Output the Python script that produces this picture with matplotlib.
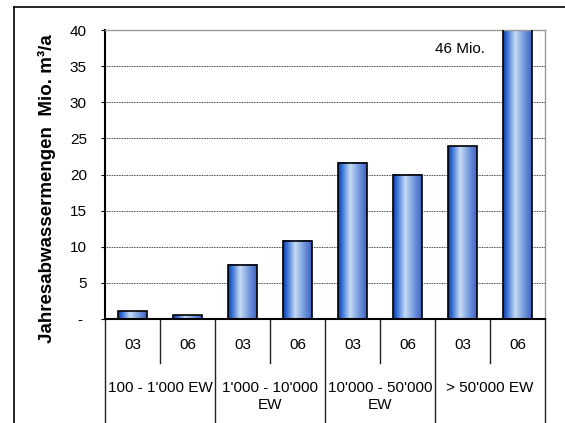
import numpy as np
import matplotlib
matplotlib.use('Agg')
import matplotlib.pyplot as plt
from matplotlib.colors import LinearSegmentedColormap
from matplotlib.patches import Rectangle

plt.rcParams['font.family'] = ['Liberation Sans', 'DejaVu Sans']

# data
groups = ["100 - 1'000 EW", "1'000 - 10'000\nEW", "10'000 - 50'000\nEW", "> 50'000 EW"]
years = ['03', '06']
values = [1.1, 0.5, 7.5, 10.8, 21.6, 20.0, 23.9, 46.0]
yticks = [0, 5, 10, 15, 20, 25, 30, 35, 40]
ytick_labels = ['- ', '5', '10', '15', '20', '25', '30', '35', '40']

W, H = 565, 423
fig = plt.figure(figsize=(W / 100, H / 100), dpi=100)
ax = fig.add_axes([105 / W, 1 - 319 / H, 440 / W, 289 / H])

# bar gradient (dark edges, light stripe left of centre)
cmap = LinearSegmentedColormap.from_list('bar', [
    (0.0, '#123d96'), (0.12, '#2f6ad4'), (0.42, '#c6dcf3'),
    (0.75, '#6f95dc'), (1.0, '#3f63c4')])
grad = np.linspace(0, 1, 64).reshape(1, -1)

x = np.arange(len(values))
bw = 0.52
for xi, v in zip(x, values):
    ax.imshow(grad, cmap=cmap, extent=(xi - bw / 2, xi + bw / 2, 0, v),
              aspect='auto', zorder=2, interpolation='bilinear')
    ax.add_patch(Rectangle((xi - bw / 2, 0), bw, v, fill=False,
                           edgecolor='black', linewidth=1.2, zorder=3))

ax.set_xlim(-0.5, len(values) - 0.5)
ax.set_ylim(0, 40)
ax.set_yticks(yticks)
ax.set_yticklabels(ytick_labels, fontsize=11)
ax.tick_params(axis='y', length=3, width=0.8, pad=10)
ax.set_xticks([])

for y in yticks[1:-1]:
    ax.axhline(y, color='black', linestyle=(0, (1, 1)), linewidth=0.6, zorder=1)

ax.spines['left'].set_linewidth(1.5)
ax.spines['bottom'].set_linewidth(1.5)
ax.spines['bottom'].set_zorder(4)
for s in ['top', 'right']:
    ax.spines[s].set_color('#999999')
    ax.spines[s].set_linewidth(1.0)

ax.set_ylabel('Jahresabwassermengen  Mio. m\u00b3/a', fontsize=13.5,
              fontweight='bold')
ax.yaxis.set_label_coords(-49 / 440, 0.45)

ax.text(5.95, 37.4, '46 Mio.', fontsize=11, ha='center', va='center')

# category table below the axis
trans = ax.get_xaxis_transform()
lw_tab = 1.0
for xi in np.arange(-0.5, len(values), 2):
    ax.plot([xi, xi], [0, -0.4], color='#222222', lw=lw_tab,
            transform=trans, clip_on=False)
for xi in np.arange(0.5, len(values), 2):
    ax.plot([xi, xi], [0, -0.152], color='#222222', lw=lw_tab,
            transform=trans, clip_on=False)
for i, xi in enumerate(x):
    ax.text(xi, -0.09, years[i % 2], fontsize=11, ha='center', va='center',
            transform=trans)
for g, name in enumerate(groups):
    ax.text(2 * g + 0.5, -0.213, name, fontsize=11, ha='center', va='top',
            transform=trans, linespacing=1.3)

# outer frame (left and top edges)
fig.add_artist(plt.Line2D([14 / W, 14 / W], [0, 1 - 7 / H],
                          color='black', lw=1.2, transform=fig.transFigure))
fig.add_artist(plt.Line2D([14 / W, 1], [1 - 7 / H, 1 - 7 / H],
                          color='black', lw=1.2, transform=fig.transFigure))

fig.savefig('out.png', dpi=100)
